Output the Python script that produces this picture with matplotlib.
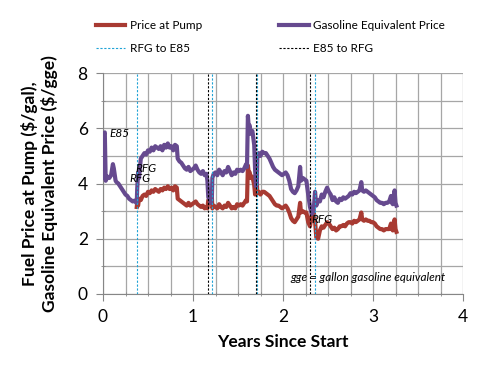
import matplotlib
matplotlib.use("Agg")
import matplotlib.pyplot as plt
from matplotlib.ticker import MultipleLocator

plt.rcParams['font.family'] = ['Lato', 'DejaVu Sans']

# gasoline equivalent price ($/gge)
gas_years = [0.0, 0.01, 0.02, 0.03, 0.05, 0.07, 0.09, 0.11, 0.12, 0.14, 0.15, 0.17, 0.19,
             0.21, 0.23, 0.25, 0.27, 0.29, 0.31, 0.33, 0.35, 0.37, 0.375, 0.38, 0.39, 0.40,
             0.42, 0.44, 0.46, 0.48, 0.50, 0.52, 0.54, 0.56, 0.58, 0.60, 0.62, 0.64, 0.66,
             0.68, 0.70, 0.72, 0.74, 0.76, 0.78, 0.80, 0.82, 0.83, 0.85, 0.87, 0.89, 0.91,
             0.93, 0.95, 0.97, 0.99, 1.01, 1.03, 1.05, 1.07, 1.09, 1.11, 1.13, 1.15, 1.16,
             1.17, 1.19, 1.20, 1.21, 1.215, 1.23, 1.25, 1.27, 1.29, 1.31, 1.33, 1.35, 1.37,
             1.39, 1.41, 1.43, 1.45, 1.47, 1.49, 1.51, 1.53, 1.55, 1.57, 1.59, 1.60, 1.61,
             1.62, 1.63, 1.64, 1.66, 1.68, 1.69, 1.70, 1.71, 1.715, 1.73, 1.75, 1.77, 1.79,
             1.81, 1.83, 1.85, 1.87, 1.89, 1.91, 1.93, 1.95, 1.97, 1.99, 2.01, 2.03, 2.05,
             2.07, 2.09, 2.11, 2.13, 2.15, 2.17, 2.19, 2.20, 2.22, 2.24, 2.26, 2.28, 2.30,
             2.32, 2.34, 2.356, 2.37, 2.39, 2.41, 2.43, 2.45, 2.47, 2.49, 2.51, 2.53, 2.55,
             2.57, 2.59, 2.61, 2.63, 2.65, 2.67, 2.69, 2.71, 2.73, 2.75, 2.77, 2.79, 2.81,
             2.83, 2.85, 2.87, 2.88, 2.90, 2.92, 2.94, 2.96, 2.98, 3.00, 3.02, 3.04, 3.06,
             3.08, 3.10, 3.12, 3.14, 3.16, 3.18, 3.20, 3.21, 3.22, 3.24, 3.25, 3.26]
gas_price = [4.2, 5.8, 5.85, 4.1, 4.25, 4.2, 4.3, 4.7, 4.55, 4.1, 4.05, 4.0, 3.9,
             3.8, 3.7, 3.6, 3.55, 3.45, 3.4, 3.35, 3.38, 3.3, 3.3, 3.8, 4.4, 4.2,
             4.9, 5.0, 5.1, 5.05, 5.2, 5.15, 5.3, 5.2, 5.35, 5.3, 5.25, 5.35, 5.2,
             5.4, 5.3, 5.45, 5.3, 5.35, 5.2, 5.4, 5.35, 4.9, 4.8, 4.75, 4.65, 4.55,
             4.5, 4.6, 4.45, 4.5, 4.55, 4.65, 4.5, 4.4, 4.35, 4.45, 4.3, 4.35, 4.1,
             3.5, 3.4, 3.3, 3.5, 4.2, 4.35, 4.4, 4.3, 4.5, 4.4, 4.3, 4.45, 4.4,
             4.6, 4.45, 4.3, 4.4, 4.35, 4.5, 4.45, 4.5, 4.45, 4.55, 4.7, 4.6, 6.45,
             6.0, 6.1, 5.8, 5.9, 5.4, 4.5, 3.9, 4.0, 5.0, 5.1, 5.0, 5.15, 5.1,
             5.1, 5.0, 4.9, 4.75, 4.6, 4.5, 4.45, 4.4, 4.35, 4.3, 4.35, 4.4, 4.3,
             4.1, 3.8, 3.7, 3.65, 3.75, 3.9, 4.6, 4.1, 4.2, 4.15, 4.1, 3.6, 3.15,
             2.9, 3.0, 3.7, 3.2, 3.4, 3.35, 3.6, 3.5, 3.7, 3.85, 3.7, 3.6, 3.4,
             3.5, 3.35, 3.3, 3.45, 3.4, 3.5, 3.45, 3.5, 3.55, 3.65, 3.6, 3.7, 3.65,
             3.7, 3.75, 4.05, 3.75, 3.7, 3.75, 3.7, 3.65, 3.6, 3.55, 3.5, 3.4, 3.35,
             3.3, 3.3, 3.25, 3.3, 3.3, 3.35, 3.55, 3.3, 3.25, 3.75, 3.3, 3.2]

# price at pump ($/gal)
pump_years = [0.375, 0.38, 0.39, 0.40, 0.42, 0.44, 0.46, 0.48, 0.50, 0.52, 0.54, 0.56, 0.58,
              0.60, 0.62, 0.64, 0.66, 0.68, 0.70, 0.72, 0.74, 0.76, 0.78, 0.80, 0.82, 0.83,
              0.85, 0.87, 0.89, 0.91, 0.93, 0.95, 0.97, 0.99, 1.01, 1.03, 1.05, 1.07, 1.09,
              1.11, 1.13, 1.15, 1.16, 1.17, 1.19, 1.20, 1.21, 1.215, 1.23, 1.25, 1.27, 1.29,
              1.31, 1.33, 1.35, 1.37, 1.39, 1.41, 1.43, 1.45, 1.47, 1.49, 1.51, 1.53, 1.55,
              1.57, 1.59, 1.60, 1.61, 1.62, 1.63, 1.64, 1.66, 1.68, 1.69, 1.70, 1.71, 1.715,
              1.73, 1.75, 1.77, 1.79, 1.81, 1.83, 1.85, 1.87, 1.89, 1.91, 1.93, 1.95, 1.97,
              1.99, 2.01, 2.03, 2.05, 2.07, 2.09, 2.11, 2.13, 2.15, 2.17, 2.19, 2.20, 2.22,
              2.24, 2.26, 2.28, 2.30, 2.32, 2.34, 2.356, 2.37, 2.39, 2.41, 2.43, 2.45, 2.47,
              2.49, 2.51, 2.53, 2.55, 2.57, 2.59, 2.61, 2.63, 2.65, 2.67, 2.69, 2.71, 2.73,
              2.75, 2.77, 2.79, 2.81, 2.83, 2.85, 2.87, 2.88, 2.90, 2.92, 2.94, 2.96, 2.98,
              3.00, 3.02, 3.04, 3.06, 3.08, 3.10, 3.12, 3.14, 3.16, 3.18, 3.20, 3.21, 3.22,
              3.24, 3.25, 3.26]
pump_price = [3.15, 3.3, 3.2, 3.45, 3.4, 3.55, 3.6, 3.55, 3.7, 3.65, 3.75, 3.7, 3.8,
              3.75, 3.7, 3.8, 3.75, 3.85, 3.8, 3.9, 3.8, 3.85, 3.75, 3.9, 3.85, 3.45,
              3.4, 3.35, 3.3, 3.25, 3.2, 3.3, 3.2, 3.25, 3.3, 3.35, 3.25, 3.2, 3.15,
              3.2, 3.1, 3.15, 3.1, 3.4, 3.4, 3.3, 3.5, 3.1, 3.2, 3.15, 3.1, 3.25,
              3.15, 3.1, 3.2, 3.15, 3.3, 3.2, 3.1, 3.15, 3.1, 3.25, 3.2, 3.25, 3.2,
              3.3, 3.4, 3.35, 4.65, 4.35, 4.4, 4.2, 4.25, 3.95, 3.6, 3.9, 4.0, 3.65,
              3.7, 3.6, 3.7, 3.7, 3.65, 3.6, 3.55, 3.45, 3.35, 3.25, 3.2, 3.2, 3.15,
              3.1, 3.15, 3.2, 3.1, 2.95, 2.75, 2.65, 2.6, 2.7, 2.8, 3.3, 2.95, 3.0,
              2.95, 2.95, 2.6, 2.45, 2.9, 3.0, 2.65, 2.05, 2.0, 2.3, 2.45, 2.4, 2.5,
              2.6, 2.55, 2.45, 2.35, 2.4, 2.3, 2.35, 2.45, 2.45, 2.5, 2.45, 2.55, 2.6,
              2.6, 2.55, 2.65, 2.6, 2.65, 2.7, 2.95, 2.7, 2.65, 2.7, 2.65, 2.65, 2.6,
              2.6, 2.55, 2.45, 2.4, 2.35, 2.35, 2.3, 2.35, 2.35, 2.35, 2.55, 2.35, 2.3,
              2.7, 2.35, 2.25]

# fuel switch dates (years)
rfg_to_e85 = [0.374, 1.21, 1.711, 2.356]
e85_to_rfg = [1.168, 1.697, 2.30]

# in-plot labels: (x, y, text)
note_labels = [(0.07, 5.8, 'E85'), (0.355, 4.56, 'RFG'), (0.29, 4.18, 'RFG'), (2.32, 2.68, 'RFG')]

red = '#A83A32'
purple = '#664A8F'
aqua = '#1FA3D6'

fig = plt.figure(figsize=(4.84, 3.81), dpi=100)
ax = fig.add_axes([103 / 484, 1 - 294 / 381, 360 / 484, 221 / 381])

h_pump, = ax.plot(pump_years, pump_price, color=red, lw=3, label='Price at Pump', zorder=3)
h_gas, = ax.plot(gas_years, gas_price, color=purple, lw=3, label='Gasoline Equivalent Price', zorder=4)

for i, x in enumerate(rfg_to_e85):
    h_blue = ax.axvline(x, color=aqua, lw=0.8, ls=(0, (2, 1.5)), zorder=5,
                        label='RFG to E85' if i == 0 else None)
for i, x in enumerate(e85_to_rfg):
    h_black = ax.axvline(x, color='black', lw=0.8, ls=(0, (2, 1.5)), zorder=5,
                         label='E85 to RFG' if i == 0 else None)

for x, y, t in note_labels:
    ax.text(x, y, t, fontsize=8.5, style='italic', va='center', ha='left', zorder=6)
ax.text(2.08, 0.58, 'gge = gallon gasoline equivalent', fontsize=8.5, style='italic',
        va='center', ha='left', zorder=6)

ax.set_xlim(0, 4)
ax.set_ylim(0, 8)
ax.xaxis.set_major_locator(MultipleLocator(1))
ax.xaxis.set_minor_locator(MultipleLocator(0.25))
ax.yaxis.set_major_locator(MultipleLocator(2))
ax.yaxis.set_minor_locator(MultipleLocator(1))
ax.grid(True, which='both', color='#A6A6A6', lw=0.9, zorder=0)
ax.set_axisbelow(True)
for s in ['top', 'right']:
    ax.spines[s].set_visible(False)
for s in ['left', 'bottom']:
    ax.spines[s].set_color('#868686')
ax.tick_params(which='major', length=5, color='#868686', labelsize=12.5, pad=6)
ax.tick_params(which='minor', length=3, color='#868686', direction='inout')

ax.set_xlabel('Years Since Start', fontsize=12.5, fontweight='bold', labelpad=6)
ax.set_ylabel('Fuel Price at Pump ($/gal),\nGasoline Equivalent Price ($/gge)',
              fontsize=12.5, fontweight='bold', labelpad=14)

fig.legend([h_pump, h_blue, h_gas, h_black],
           ['Price at Pump', 'RFG to E85', 'Gasoline Equivalent Price', 'E85 to RFG'],
           ncol=2, loc='upper left', bbox_to_anchor=(0.176, 0.975), frameon=False,
           fontsize=8.5, handlelength=2.5, columnspacing=6.5, handletextpad=0.4,
           labelspacing=1.0)

fig.savefig('out.png', dpi=100)
